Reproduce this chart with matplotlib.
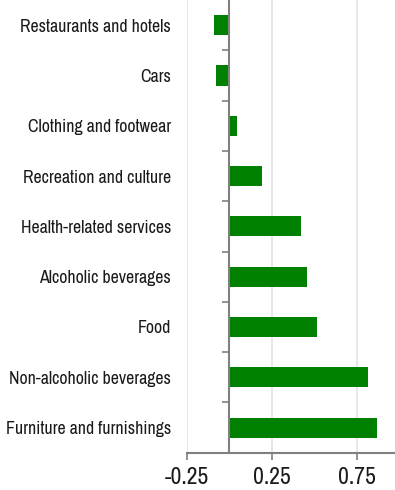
import matplotlib
matplotlib.use('Agg')
import matplotlib.pyplot as plt
import numpy as np

categories = ['Restaurants and hotels', 'Cars', 'Clothing and footwear',
              'Recreation and culture', 'Health-related services',
              'Alcoholic beverages', 'Food', 'Non-alcoholic beverages',
              'Furniture and furnishings']
values = [-0.09, -0.08, 0.045, 0.195, 0.42, 0.455, 0.515, 0.815, 0.87]
xticks = [-0.25, 0.25, 0.75]

plt.rcParams['font.family'] = ['Archivo Narrow', 'Liberation Sans', 'DejaVu Sans']

fig = plt.figure(figsize=(3.95, 4.9), dpi=100)
ax = fig.add_axes([0.4727, 0.0761, 0.5273, 0.9239])

pos = np.arange(len(categories))
ax.barh(pos, values, height=0.4, color='#008000', zorder=3)

ax.set_xlim(-0.25, 0.975)
ax.set_ylim(len(categories) - 0.5, -0.5)

# light grid at the labelled ticks, darker zero line
ax.set_xticks(xticks, [f'{t:.2f}' for t in xticks])
ax.grid(axis='x', color='#e3e3e3', linewidth=1.2, zorder=0)
ax.axvline(0, color='#808080', linewidth=1.5, zorder=4)

# category labels sit left of the plot, boundary ticks on the zero line
ax.spines['left'].set_position(('data', 0))
ax.spines['left'].set_visible(False)
ax.set_yticks(pos, categories)
ax.set_yticks(pos[:-1] + 0.5, minor=True)
ax.tick_params(axis='y', which='major', length=0, pad=42, labelsize=12.8, labelcolor='#1a1a1a')
ax.tick_params(axis='y', which='minor', length=5, width=1.2, color='#808080')
ax.tick_params(axis='x', length=5, width=1.2, color='#808080', labelsize=17, labelcolor='#1a1a1a', pad=5)

for s in ('top', 'right'):
    ax.spines[s].set_visible(False)
ax.spines['bottom'].set_color('#808080')
ax.spines['bottom'].set_linewidth(1.5)

fig.savefig('out.png', dpi=100)
